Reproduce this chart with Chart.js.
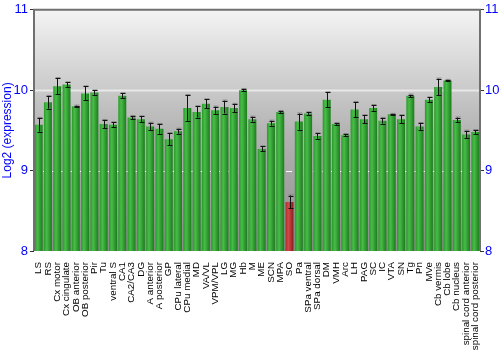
<!DOCTYPE html>
<html><head><meta charset="utf-8">
<script src="https://cdn.jsdelivr.net/npm/chart.js@4/dist/chart.umd.min.js"></script>
<style>html,body{margin:0;padding:0;background:#fff}#wrap{width:500px;height:350px}</style>
</head><body><div id="wrap"><canvas id="c" width="500" height="350"></canvas></div>
<script>
const categories = ["LS","RS","Cx motor","Cx cingulate","OB anterior","OB posterior","Pir","Tu","ventral S","CA1","CA2/CA3","DG","A anterior","A posterior","GP","CPu lateral","CPu medial","MD","VA/VL","VPM/VPL","LG","MG","Hb","M","ME","SCN","MPA","SO","Pa","SPa ventral","SPa dorsal","DM","VMH","Arc","LH","PAG","SC","IC","VTA","SN","Tg","Pn","MVe","Cb vermis","Cb lobe","Cb nucleus","spinal cord anterior","spinal cord posterior"];
const values = [9.57,9.85,10.05,10.07,9.80,9.96,9.97,9.58,9.57,9.93,9.66,9.64,9.55,9.52,9.39,9.49,9.78,9.73,9.83,9.75,9.79,9.78,10.00,9.64,9.27,9.59,9.73,8.61,9.61,9.71,9.43,9.88,9.58,9.44,9.76,9.64,9.78,9.62,9.70,9.64,9.93,9.55,9.88,10.04,10.12,9.63,9.45,9.48];
const errors = [0.085,0.079,0.10,0.027,0.008,0.087,0.027,0.05,0.03,0.031,0.019,0.035,0.045,0.06,0.075,0.03,0.16,0.07,0.056,0.045,0.08,0.05,0.015,0.03,0.03,0.03,0.012,0.08,0.10,0.015,0.033,0.093,0.01,0.015,0.093,0.048,0.035,0.035,0.005,0.048,0.015,0.042,0.03,0.104,0.008,0.03,0.045,0.023];
const yTicks = [8,9,10,11];
const highlighted = ["SO"];

function barGradient(context){
  const chart = context.chart;
  const xs = chart.scales.x;
  if (!xs || !chart.chartArea) return '#2e9e2e';
  const i = context.dataIndex;
  const cx = xs.getPixelForValue(i);
  const w = (xs.right - xs.left) / categories.length * 0.86;
  const g = chart.ctx.createLinearGradient(cx - w/2, 0, cx + w/2, 0);
  if (highlighted.includes(categories[i])) {
    g.addColorStop(0, '#a82a2a'); g.addColorStop(0.35, '#d24a4a'); g.addColorStop(1, '#8a1c1c');
  } else {
    g.addColorStop(0, '#2a9a2a'); g.addColorStop(0.35, '#48bc48'); g.addColorStop(1, '#1c7c1c');
  }
  return g;
}

const bgPlugin = {
  id: 'bg',
  beforeDatasetsDraw(chart){
    const {ctx, chartArea:a, scales} = chart;
    ctx.save();
    const g = ctx.createLinearGradient(0, a.top, 0, a.bottom);
    g.addColorStop(0, '#f4f4f4'); g.addColorStop(0.5, '#b4b4b4'); g.addColorStop(1, '#8c8c8c');
    ctx.fillStyle = g;
    ctx.fillRect(a.left, a.top, a.right - a.left, a.bottom - a.top);
    const y = scales.y;
    let p = Math.round(y.getPixelForValue(10)) + 0.5;
    ctx.strokeStyle = '#e8e8e8'; ctx.lineWidth = 2;
    ctx.beginPath(); ctx.moveTo(a.left, p); ctx.lineTo(a.right, p); ctx.stroke();
    p = Math.round(y.getPixelForValue(9)) + 0.5;
    ctx.strokeStyle = '#ffffff'; ctx.lineWidth = 1; ctx.setLineDash([6,3]);
    ctx.beginPath(); ctx.moveTo(a.left, p); ctx.lineTo(a.right, p); ctx.stroke();
    ctx.restore();
  },
  afterDatasetsDraw(chart){
    const {ctx, chartArea:a, scales} = chart;
    const xs = scales.x, ys = scales.y;
    ctx.save();
    for (let i = 0; i < values.length; i++) {
      const x = Math.round(xs.getPixelForValue(i)) + 0.5;
      const t = ys.getPixelForValue(values[i] + errors[i]);
      const b = ys.getPixelForValue(values[i] - errors[i]);
      ctx.strokeStyle = 'rgba(90,90,90,0.6)'; ctx.lineWidth = 1;
      ctx.beginPath();
      ctx.moveTo(x-2, t-0.5); ctx.lineTo(x+3, t-0.5);
      ctx.stroke();
      ctx.strokeStyle = '#111'; ctx.lineWidth = 1;
      ctx.beginPath();
      ctx.moveTo(x, t); ctx.lineTo(x, b);
      ctx.moveTo(x-2, Math.round(t)+0.5); ctx.lineTo(x+3, Math.round(t)+0.5);
      ctx.moveTo(x-2, Math.round(b)+0.5); ctx.lineTo(x+3, Math.round(b)+0.5);
      ctx.stroke();
    }
    ctx.strokeStyle = '#707070'; ctx.lineWidth = 2;
    ctx.beginPath();
    ctx.moveTo(a.left, a.bottom); ctx.lineTo(a.left, a.top); ctx.lineTo(a.right, a.top); ctx.lineTo(a.right, a.bottom);
    ctx.stroke();
    ctx.restore();
  }
};

new Chart(document.getElementById('c'), {
  type: 'bar',
  data: { labels: categories, datasets: [{ data: values, backgroundColor: barGradient, borderWidth: 0, barPercentage: 0.86, categoryPercentage: 1 }] },
  options: {
    responsive: false, animation: false,
    layout: { padding: { top: 9, right: 0, left: 0, bottom: 0 } },
    plugins: { legend: { display: false }, tooltip: { enabled: false } },
    scales: {
      x: {
        grid: { display: false }, border: { display: false },
        ticks: { autoSkip: false, maxRotation: 90, minRotation: 90, color: '#000', padding: 3,
          font: { family: 'Liberation Sans, Arial, sans-serif', size: 9.8 } },
        afterFit(s){ s.height = 99; }
      },
      y: {
        position: 'left', min: 8, max: 11,
        afterBuildTicks(s){ s.ticks = yTicks.map(v => ({value: v})); },
        grid: { drawOnChartArea: false, drawTicks: true, tickLength: 4, color: '#333' },
        border: { display: false },
        ticks: { color: '#0000ff', padding: 2, font: { family: 'Liberation Sans, Arial, sans-serif', size: 13 } },
        title: { display: true, text: 'Log2 (expression)', color: '#0000ff', padding: 0,
          font: { family: 'Liberation Sans, Arial, sans-serif', size: 12 } },
        afterFit(s){ s.width = 34; }
      },
      y2: {
        position: 'right', min: 8, max: 11,
        afterBuildTicks(s){ s.ticks = yTicks.map(v => ({value: v})); },
        grid: { drawOnChartArea: false, drawTicks: true, tickLength: 4, color: '#333' },
        border: { display: false },
        ticks: { color: '#0000ff', padding: 1, font: { family: 'Liberation Sans, Arial, sans-serif', size: 13 } },
        afterFit(s){ s.width = 20; }
      }
    }
  },
  plugins: [bgPlugin]
});
</script></body></html>
